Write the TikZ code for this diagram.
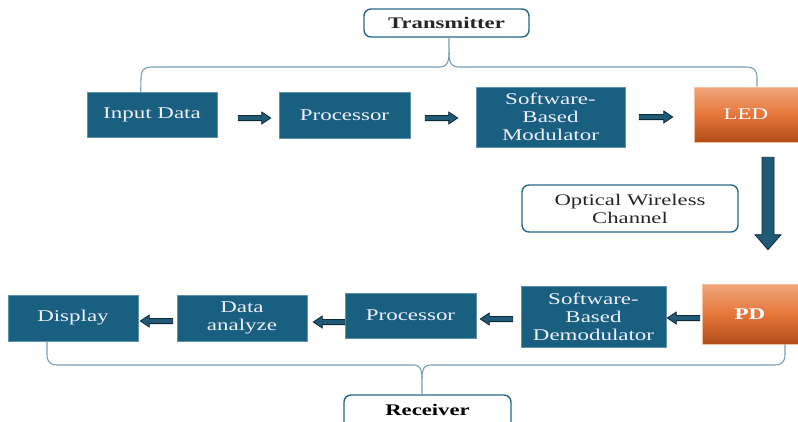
\documentclass[tikz,border=0pt]{standalone}
\usepackage{fontspec}
\setmainfont{Liberation Serif}[FakeStretch=1.4]
\usetikzlibrary{calc}

\definecolor{boxblue}{RGB}{24,95,128}
\definecolor{boxedge}{RGB}{96,146,172}
\definecolor{arrowfill}{RGB}{32,90,118}
\definecolor{arrowedge}{RGB}{12,42,58}
\definecolor{bracec}{RGB}{118,158,184}
\definecolor{tagedge}{RGB}{38,104,138}
\definecolor{ledtop}{RGB}{240,166,124}
\definecolor{ledmid}{RGB}{230,118,58}
\definecolor{ledbot}{RGB}{178,76,24}

% horizontal block arrow from tail #1 to tip #2 (tip keeps the tail's height)
\newcommand{\harrow}[2]{%
  \draw[blockarrow] let \p1=#1, \p2=#2, \n1={(2*(\x2>\x1)-1)*9} in
    ({\x1},{\y1+2.6pt}) -- ({\x2-(\n1)*1pt},{\y1+2.6pt}) --
    ({\x2-(\n1)*1pt},{\y1+6pt}) -- ({\x2},{\y1}) --
    ({\x2-(\n1)*1pt},{\y1-6pt}) -- ({\x2-(\n1)*1pt},{\y1-2.6pt}) --
    ({\x1},{\y1-2.6pt}) -- cycle;}

\begin{document}
\begin{tikzpicture}[x=1pt,y=-1pt,
  block/.style={fill=boxblue, draw=boxedge, line width=0.6pt, text=white!94!blue,
    align=center, inner sep=0pt, font=\fontsize{16.4}{18}\selectfont},
  source/.style={block, draw=ledtop!70!white, shade, top color=ledtop,
    bottom color=ledbot, middle color=ledmid, text=white},
  tag/.style={draw=tagedge, line width=1.4pt, rounded corners=7pt, fill=white,
    align=center, inner sep=0pt, font=\fontsize{16.2}{18}\selectfont, text=black!85},
  blockarrow/.style={fill=arrowfill, draw=arrowedge, line width=0.8pt, line join=miter},
  bracket/.style={draw=bracec, line width=1.1pt}]

\useasboundingbox (0,0) rectangle (798,421);
\clip (0,0) rectangle (798,421);

% transmitter chain
\node[block, minimum width=130pt, minimum height=45pt] (in)   at (152,114.5) {Input Data};
\node[block, minimum width=131pt, minimum height=46pt] (proc) at (344.5,115) {Processor};
\node[block, minimum width=149pt, minimum height=60pt] (mod)  at (550.5,117) {Software-\\Based\\Modulator};
\node[source, minimum width=104pt, minimum height=55pt] (led) at (746,114.5) {LED};

\node[tag, minimum width=165pt, minimum height=28pt, font=\fontsize{16.2}{17}\selectfont\bfseries]
  (tx) at (446.5,23) {Transmitter};

% channel
\node[tag, minimum width=216pt, minimum height=47pt] (owc) at (630,208.5) {Optical Wireless\\Channel};

% receiver chain
\node[block, minimum width=130pt, minimum height=46pt] (disp)  at (73,318) {Display};
\node[block, minimum width=130pt, minimum height=46pt] (da)    at (242,318) {Data\\analyze};
\node[block, minimum width=131pt, minimum height=45pt] (proc2) at (410.5,315.5) {Processor};
\node[block, minimum width=145pt, minimum height=61pt] (demod) at (593.5,316.5) {Software-\\Based\\Demodulator};
\node[source, minimum width=96pt, minimum height=60pt, font=\fontsize{16.4}{18}\selectfont\bfseries]
  (pd) at (750,314) {PD};

\draw[tag] (344,395) rectangle (511,445);
\node[font=\fontsize{16.2}{17}\selectfont\bfseries, text=black, inner sep=0pt] (rx) at (427.5,410) {Receiver};

% bracket grouping the transmitter blocks
\draw[bracket] ($(in.north west)+(54,0)$) -- (141,78) .. controls (141,70) and (144,67) .. (152,67)
  -- (440,67) .. controls (446,67) and (449,63) .. (449,53) -- (tx.south -| 449,0);
\draw[bracket] (449,53) .. controls (449,63) and (452,67) .. (458,67)
  -- (746,67) .. controls (754,67) and (757,70) .. (757,78) -- (led.north -| 757,0);

% bracket grouping the receiver blocks
\draw[bracket] (disp.south -| 47,0) -- (47,354) .. controls (47,362) and (50,365) .. (58,365)
  -- (413,365) .. controls (420,365) and (422,369) .. (422,378) -- (422,395);
\draw[bracket] (422,378) .. controls (422,369) and (424,365) .. (431,365)
  -- (774,365) .. controls (782,365) and (785,362) .. (785,354) -- (pd.south -| 785,0);

% flow arrows, transmitter
\harrow{($(in.east)+(21,3.5)$)}{($(proc.west)+(-8,0)$)}
\harrow{($(proc.east)+(15,3)$)}{($(mod.west)+(-18,0)$)}
\harrow{($(mod.east)+(14,0)$)}{($(led.west)+(-21,0)$)}

% flow arrows, receiver (right to left)
\harrow{($(da.west)+(-4,3)$)}{($(disp.east)+(2,0)$)}
\harrow{($(proc2.west)+(0,6.5)$)}{($(da.east)+(6,0)$)}
\harrow{($(demod.west)+(-8,2.5)$)}{($(proc2.east)+(4,0)$)}
\harrow{($(pd.west)+(-2,4)$)}{($(demod.east)+(1,0)$)}

% downlink arrow from LED to PD
\draw[blockarrow] let \p1=($(led.south)+(22,15)$), \p2=($(pd.north)+(18,-34)$) in
  ({\x1-6pt},{\y1}) -- ({\x1-6pt},{\y2+15pt}) -- ({\x1-13pt},{\y2+15pt}) -- ({\x1},{\y2})
  -- ({\x1+13pt},{\y2+15pt}) -- ({\x1+6pt},{\y2+15pt}) -- ({\x1+6pt},{\y1}) -- cycle;
\end{tikzpicture}
\end{document}
